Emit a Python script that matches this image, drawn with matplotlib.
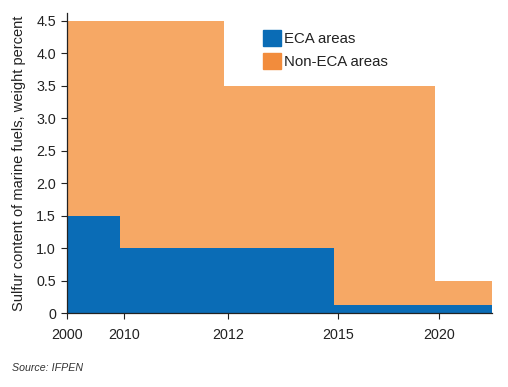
import matplotlib.pyplot as plt
from matplotlib.patches import Patch

plt.rcParams['font.family'] = ['Liberation Sans', 'DejaVu Sans']

# sulphur limits (weight %) per period
years = ['2000', '2010', '2012', '2015', '2020']
eca_limit = [1.5, 1.0, 1.0, 0.12, 0.12]
non_eca_limit = [4.5, 4.5, 3.5, 3.5, 0.5]

# axis positions of each year on the (non linear) x axis
tick_pos = [0, 1.1, 3.1, 5.2, 7.15]
x_end = 8.17
shift = 0.08  # steps sit just before the tick

blue = '#0a6cb6'
orange = '#f6a865'

edges = [tick_pos[0]] + [p - shift for p in tick_pos[1:]] + [x_end]
eca_y = eca_limit + [eca_limit[-1]]
non_y = non_eca_limit + [non_eca_limit[-1]]

fig = plt.figure(figsize=(5.08, 3.87), dpi=100)
ax = fig.add_axes([0.132, 0.191, 0.837, 0.775])

ax.fill_between(edges, 0, non_y, step='post', color=orange, lw=0)
ax.fill_between(edges, 0, eca_y, step='post', color=blue, lw=0)

ax.set_xlim(0, x_end)
ax.set_ylim(0, 4.62)
ax.set_xticks(tick_pos)
ax.set_xticklabels(years)
ax.set_yticks([0, 0.5, 1, 1.5, 2, 2.5, 3, 3.5, 4, 4.5])
ax.set_yticklabels(['0', '0.5', '1.0', '1.5', '2.0', '2.5', '3.0', '3.5', '4.0', '4.5'])
ax.tick_params(labelsize=10.3, colors='#222222', length=4, width=0.8, pad=4)
ax.tick_params(axis='x', pad=7)
for s in ['top', 'right']:
    ax.spines[s].set_visible(False)
for s in ['left', 'bottom']:
    ax.spines[s].set_color('#222222')
    ax.spines[s].set_linewidth(0.9)

ax.set_ylabel('Sulfur content of marine fuels, weight percent', fontsize=10.5,
              color='#222222', labelpad=7)

handles = [Patch(color=blue, label='ECA areas'),
           Patch(color='#f28c3c', label='Non-ECA areas')]
ax.legend(handles=handles, loc='upper left', bbox_to_anchor=(255 / 508, 1 - 23 / 387),
          bbox_transform=fig.transFigure, frameon=False, fontsize=10.8,
          handlelength=1.2, handleheight=1.25, handletextpad=0.2, labelspacing=0.45,
          borderpad=0, labelcolor='#222222')

fig.text(12 / 508, 1 - 368 / 387, 'Source: IFPEN', fontsize=7.7, style='italic',
         color='#333333', va='center')

fig.savefig('out.png', dpi=100)
